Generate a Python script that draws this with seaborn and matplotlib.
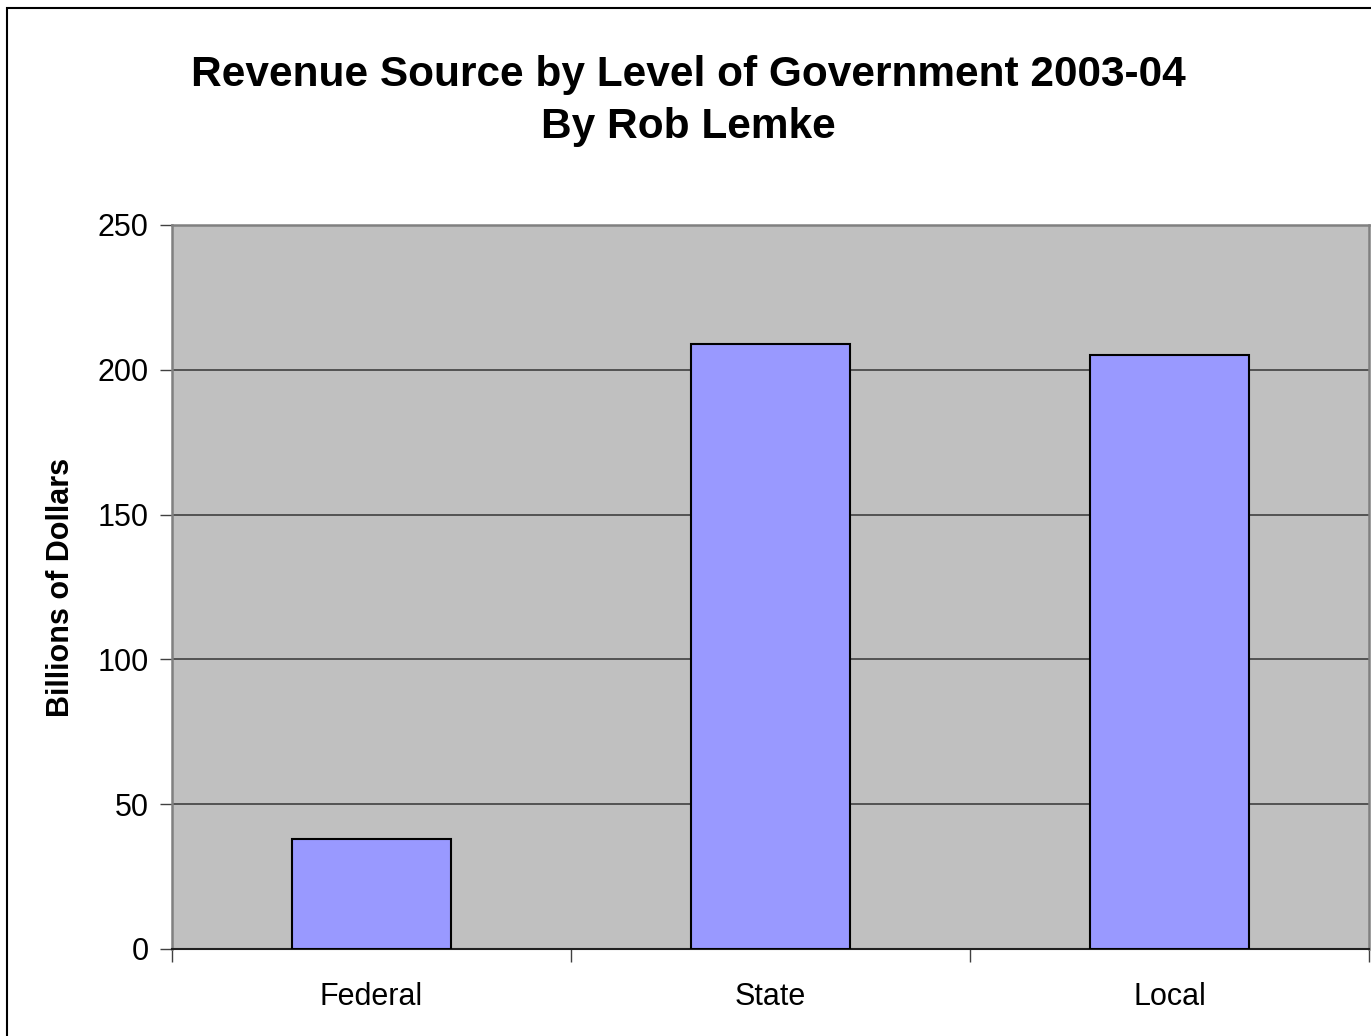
import matplotlib
matplotlib.use("Agg")
import matplotlib.pyplot as plt
import seaborn as sns
import pandas as pd
from matplotlib.patches import Rectangle

categories = ["Federal", "State", "Local"]
values = [38, 209, 205]
yticks = [0, 50, 100, 150, 200, 250]

sns.set_style("white")
plt.rcParams['font.family'] = ['Liberation Sans', 'DejaVu Sans']
plt.rcParams['text.color'] = 'black'
plt.rcParams['axes.labelcolor'] = 'black'
plt.rcParams['xtick.color'] = 'black'
plt.rcParams['ytick.color'] = 'black'

df = pd.DataFrame({"Level": categories, "Billions": values})

fig = plt.figure(figsize=(13.71, 10.36), dpi=100)
ax = fig.add_axes([172/1371, 1 - 949/1036, (1369-172)/1371, (949-225)/1036])
ax.set_facecolor("#C0C0C0")

sns.barplot(data=df, x="Level", y="Billions", color="#9999FF", width=0.4,
            edgecolor="black", linewidth=1.5, saturation=1, ax=ax, zorder=3)

ax.set_ylim(0, 250)
ax.set_xlim(-0.5, 2.5)
ax.set_yticks(yticks)
ax.set_yticklabels([str(t) for t in yticks], fontsize=22)
ax.yaxis.grid(True, color="#404040", linewidth=1.2, zorder=1)
ax.set_axisbelow(True)

# x ticks at category boundaries, labels at centers
ax.set_xticks([-0.5, 0.5, 1.5, 2.5])
ax.set_xticklabels([])
ax.set_xticks([0, 1, 2], minor=True)
ax.set_xticklabels(categories, minor=True, fontsize=22)
ax.tick_params(axis="x", which="major", direction="out", length=9, width=1, color="#404040", bottom=True)
ax.tick_params(axis="x", which="minor", length=0, pad=24)
ax.tick_params(axis="y", direction="out", length=9, width=1, color="#404040", left=True, pad=8)

for side in ["top", "right", "left"]:
    ax.spines[side].set_color("#808080")
    ax.spines[side].set_linewidth(1.8)
ax.spines["bottom"].set_color("#202020")
ax.spines["bottom"].set_linewidth(1.5)

ax.set_xlabel("")
ax.set_ylabel("Billions of Dollars", fontsize=22, fontweight="bold", labelpad=15)

fig.text(0.5018, 1 - 101/1036, "Revenue Source by Level of Government 2003-04\nBy Rob Lemke",
         ha="center", va="center", fontsize=30.5, fontweight="bold", linespacing=1.4)

fig.patches.append(Rectangle((7/1371, -0.05), 1.1, 1 - 8/1036 + 0.05, transform=fig.transFigure,
                             fill=False, edgecolor="black", linewidth=1.5, zorder=0))

fig.savefig("out.png", dpi=100, facecolor="white")
